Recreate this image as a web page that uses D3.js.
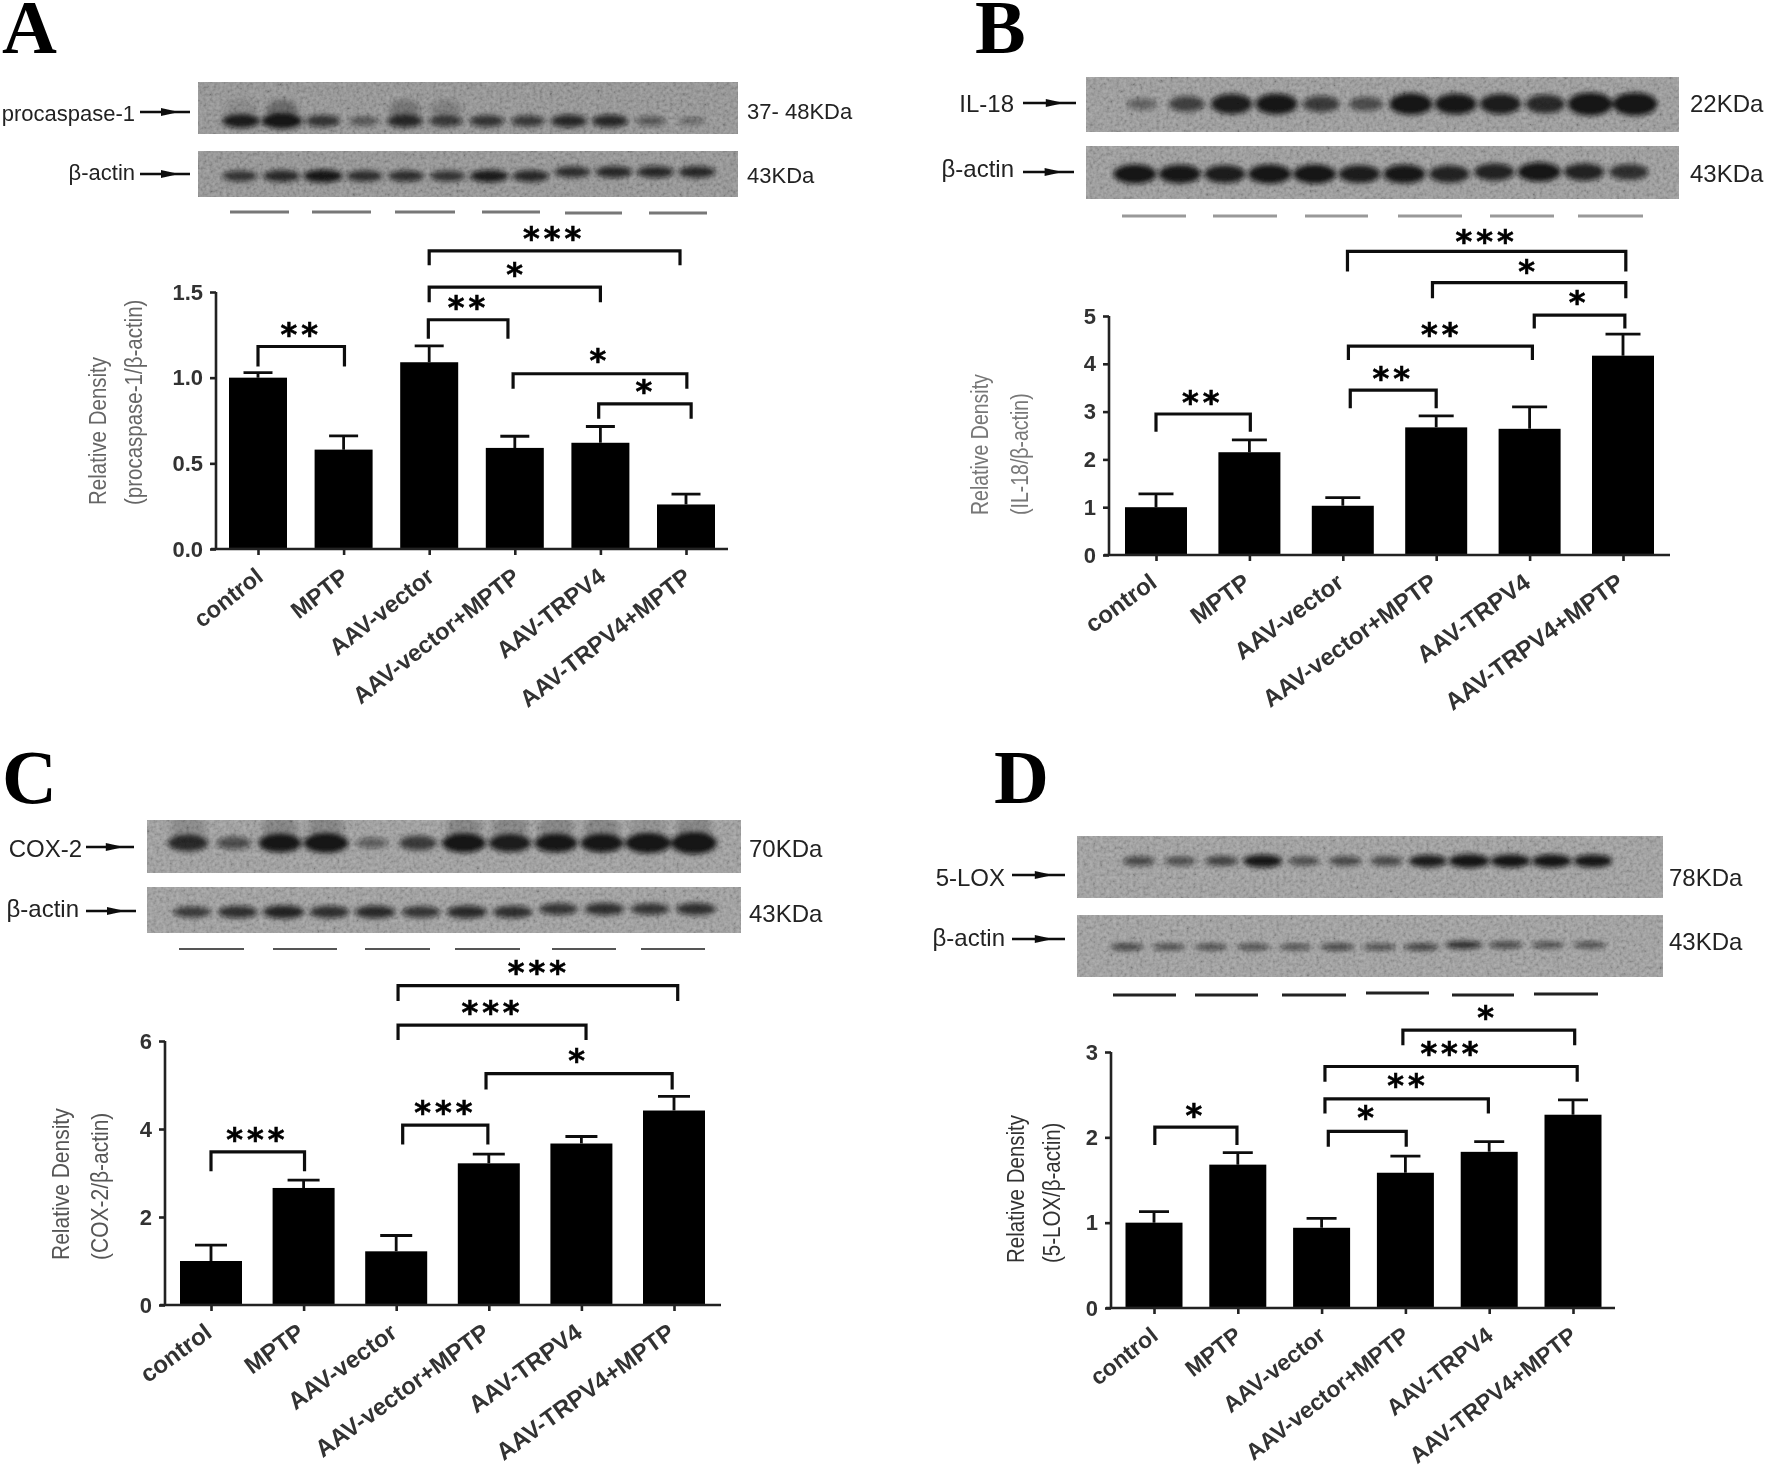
<!DOCTYPE html>
<html lang="en">
<head>
<meta charset="UTF-8" />
<title>TRPV4 western blots and densitometry</title>
<style>
  html, body { margin: 0; padding: 0; background: #fff; }
  svg { display: block; }
  text { font-family: "Liberation Sans", Arial, sans-serif; }
  .letter { font-family: "Liberation Serif", serif; font-weight: bold; font-size: 76px; fill: #000; }
  .blotlabel { fill: #222; dominant-baseline: central; }
  .tick-y text { font-size: 22px; font-weight: bold; fill: #333; }
  .tick-x text { font-weight: bold; fill: #333; }
  .stars { font-family: "DejaVu Sans", sans-serif; font-weight: bold; font-size: 32px; fill: #000; stroke: #000; stroke-width: 0.6; text-anchor: middle; letter-spacing: 4px; }
</style>
</head>
<body>
<svg id="fig" width="1767" height="1467"></svg>
<script src="https://d3js.org/d3.v7.min.js"></script>
<script>
const categories = ["control", "MPTP", "AAV-vector", "AAV-vector+MPTP", "AAV-TRPV4", "AAV-TRPV4+MPTP"];

// bar heights and top of the error bars
const valuesA = [1.0, 0.58, 1.09, 0.59, 0.62, 0.26];
const errorsA = [1.03, 0.66, 1.185, 0.658, 0.715, 0.32];
const valuesB = [1.0, 2.15, 1.03, 2.67, 2.64, 4.17];
const errorsB = [1.28, 2.41, 1.2, 2.91, 3.1, 4.62];
const valuesC = [1.0, 2.66, 1.22, 3.22, 3.67, 4.42];
const errorsC = [1.36, 2.84, 1.58, 3.43, 3.83, 4.74];
const valuesD = [1.0, 1.68, 0.94, 1.585, 1.83, 2.265];
const errorsD = [1.13, 1.82, 1.05, 1.78, 1.95, 2.44];

const ticksA = [0, 0.5, 1, 1.5];
const ticksB = [0, 1, 2, 3, 4, 5];
const ticksC = [0, 2, 4, 6];
const ticksD = [0, 1, 2, 3];

// from, to, level, left leg end, right leg end, stars, star x, star level
const bracketsA = [
  [2, 4.93, 1.74, 1.656, 1.656, "***", 3.46, 1.837],
  [2, 4, 1.529, 1.44, 1.44, "*", 3.02, 1.63],
  [1.99, 2.92, 1.338, 1.227, 1.227, "**", 2.46, 1.436],
  [0, 1.01, 1.182, 1.065, 1.065, "**", 0.505, 1.276],
  [2.98, 5.01, 1.023, 0.935, 0.935, "*", 3.995, 1.126],
  [3.98, 5.06, 0.847, 0.76, 0.76, "*", 4.53, 0.945]
];
const bracketsB = [
  [2.05, 5.03, 6.35, 5.93, 5.93, "***", 3.54, 6.65],
  [2.96, 5.03, 5.7, 5.37, 5.37, "*", 3.99, 6.03],
  [4.05, 5.02, 5.02, 4.74, 4.74, "*", 4.53, 5.37],
  [2.06, 4.03, 4.37, 4.08, 4.08, "**", 3.06, 4.71],
  [2.08, 3, 3.45, 3.07, 3.07, "**", 2.54, 3.78],
  [0, 1.01, 2.95, 2.58, 2.58, "**", 0.5, 3.28]
];
const bracketsC = [
  [2.02, 5.04, 7.26, 6.91, 6.91, "***", 3.54, 7.66],
  [2.02, 4.05, 6.36, 6.02, 6.02, "***", 3.04, 6.76],
  [2.97, 4.98, 5.26, 4.9, 4.9, "*", 3.97, 5.66],
  [2.07, 2.99, 4.09, 3.65, 3.65, "***", 2.53, 4.48],
  [0, 1.01, 3.48, 3.04, 3.04, "***", 0.5, 3.87]
];
const bracketsD = [
  [2.97, 5.02, 3.256, 3.08, 3.08, "*", 3.98, 3.46],
  [2.04, 5.05, 2.83, 2.65, 2.65, "***", 3.55, 3.04],
  [2.04, 3.99, 2.45, 2.28, 2.28, "**", 3.03, 2.66],
  [2.08, 3.01, 2.07, 1.89, 1.89, "*", 2.55, 2.28],
  [0.01, 0.99, 2.12, 1.91, 1.91, "*", 0.5, 2.31]
];

// western blot lane densities (12 lanes) and smear above the band
const lanesA = [0.8, 1, 0.6, 0.3, 0.7, 0.55, 0.6, 0.55, 0.7, 0.7, 0.3, 0.12];
const smearA = [0.2, 0.55, 0, 0, 0.4, 0.3, 0, 0, 0, 0, 0, 0];
const actinA = [0.6, 0.7, 0.85, 0.65, 0.65, 0.6, 0.8, 0.7, 0.65, 0.7, 0.7, 0.7];
const lanesB = [0.2, 0.5, 0.8, 0.85, 0.55, 0.4, 0.9, 0.85, 0.8, 0.7, 1, 1];
const smearB = [0, 0, 0, 0, 0, 0, 0, 0, 0, 0, 0, 0];
const actinB = [0.9, 0.85, 0.8, 0.9, 0.9, 0.8, 0.85, 0.75, 0.75, 0.9, 0.75, 0.65];
const lanesC = [0.7, 0.4, 0.85, 0.95, 0.25, 0.55, 0.9, 0.8, 0.85, 0.85, 1, 1.1];
const smearC = [0.25, 0, 0.3, 0.3, 0, 0, 0.3, 0.3, 0.3, 0.3, 0.2, 0.3];
const actinC = [0.55, 0.65, 0.75, 0.65, 0.7, 0.6, 0.7, 0.65, 0.6, 0.65, 0.6, 0.65];
const lanesD = [0.45, 0.4, 0.5, 0.85, 0.4, 0.45, 0.45, 0.8, 0.95, 0.9, 0.9, 0.85];
const smearD = [0, 0, 0, 0, 0, 0, 0, 0, 0, 0, 0, 0];
const actinD = [0.5, 0.45, 0.45, 0.45, 0.4, 0.5, 0.45, 0.55, 0.7, 0.5, 0.45, 0.45];

// layout of each panel, in page pixels
const panels = [
  {
    letter: "A", letterX: 2, letterY: 53, labelSize: 22, catSize: 23.5, catAngle: -38, catDx: 1, catDy: 24,
    values: valuesA, errors: errorsA, brackets: bracketsA, ticks: ticksA, tickFormat: d3.format(".1f"),
    xFirst: 258, xLast: 686, axisX: 216, axisEnd: 728, yTop: 292, yZero: 549, barW: 58, capW: 29,
    titleBottom: 505, title: ["Relative Density", "(procaspase-1/\u03b2-actin)"], titleX: [98, 134], titleSize: 20.5, titleFill: "#666",
    blots: [
      { x: 198, w: 540, y: 82, h: 52, lanes: lanesA, smear: smearA, from: 241, to: 692, bandY: 121, thick: 11, shift: 0, fill: "#8f8f8f",
        label: "procaspase-1", labelX: 135, labelY: 113, arrowX: [140, 190], arrowY: 112, kda: "37- 48KDa", kdaX: 747, kdaY: 111 },
      { x: 198, w: 540, y: 151, h: 46, lanes: actinA, smear: null, from: 240, to: 697, bandY: 176, thick: 10, shift: -4, fill: "#8f8f8f",
        label: "\u03b2-actin", labelX: 135, labelY: 172, arrowX: [140, 190], arrowY: 174, kda: "43KDa", kdaX: 747, kdaY: 175 }
    ],
    dashes: [[230, 289], [312, 371], [395, 455], [482, 540], [565, 622], [649, 707]], dashY: [212, 212, 212, 212, 213, 213], dashFill: "#777", dashW: 3
  },
  {
    letter: "B", letterX: 975, letterY: 53, labelSize: 24, catSize: 24, catAngle: -36, catDx: -3, catDy: 24,
    values: valuesB, errors: errorsB, brackets: bracketsB, ticks: ticksB, tickFormat: d3.format("d"),
    xFirst: 1156, xLast: 1623, axisX: 1109, axisEnd: 1670, yTop: 316, yZero: 555, barW: 62, capW: 35,
    titleBottom: 515, title: ["Relative Density", "(IL-18/\u03b2-actin)"], titleX: [980, 1020], titleSize: 19.5, titleFill: "#777",
    blots: [
      { x: 1086, w: 593, y: 77, h: 55, lanes: lanesB, smear: smearB, from: 1142, to: 1635, bandY: 104, thick: 17, shift: 0, fill: "#979797",
        label: "IL-18", labelX: 1014, labelY: 103, arrowX: [1023, 1076], arrowY: 103, kda: "22KDa", kdaX: 1690, kdaY: 103 },
      { x: 1086, w: 593, y: 146, h: 53, lanes: actinB, smear: null, from: 1135, to: 1629, bandY: 174, thick: 15, shift: -2, fill: "#979797",
        label: "\u03b2-actin", labelX: 1014, labelY: 168, arrowX: [1023, 1074], arrowY: 172, kda: "43KDa", kdaX: 1690, kdaY: 173 }
    ],
    dashes: [[1122, 1186], [1213, 1277], [1305, 1368], [1398, 1462], [1490, 1554], [1578, 1643]], dashY: [216, 216, 216, 216, 216, 216], dashFill: "#999", dashW: 3
  },
  {
    letter: "C", letterX: 2, letterY: 803, labelSize: 24, catSize: 24, catAngle: -36, catDx: -3, catDy: 24,
    values: valuesC, errors: errorsC, brackets: bracketsC, ticks: ticksC, tickFormat: d3.format("d"),
    xFirst: 211, xLast: 674, axisX: 165, axisEnd: 721, yTop: 1041, yZero: 1305, barW: 62, capW: 32,
    titleBottom: 1260, title: ["Relative Density", "(COX-2/\u03b2-actin)"], titleX: [60, 99], titleSize: 21, titleFill: "#555",
    blots: [
      { x: 147, w: 594, y: 820, h: 53, lanes: lanesC, smear: smearC, from: 188, to: 694, bandY: 843, thick: 15, shift: 0, fill: "#9b9b9b",
        label: "COX-2", labelX: 82, labelY: 848, arrowX: [86, 134], arrowY: 847, kda: "70KDa", kdaX: 749, kdaY: 848 },
      { x: 147, w: 594, y: 887, h: 46, lanes: actinC, smear: null, from: 192, to: 696, bandY: 912, thick: 11, shift: -3, fill: "#9b9b9b",
        label: "\u03b2-actin", labelX: 79, labelY: 908, arrowX: [86, 136], arrowY: 911, kda: "43KDa", kdaX: 749, kdaY: 913 }
    ],
    dashes: [[179, 244], [273, 337], [365, 430], [455, 520], [552, 616], [641, 705]], dashY: [949, 949, 949, 949, 949, 949], dashFill: "#555", dashW: 2
  },
  {
    letter: "D", letterX: 994, letterY: 803, labelSize: 24, catSize: 23, catAngle: -38, catDx: 0, catDy: 24,
    values: valuesD, errors: errorsD, brackets: bracketsD, ticks: ticksD, tickFormat: d3.format("d"),
    xFirst: 1154, xLast: 1573, axisX: 1111, axisEnd: 1615, yTop: 1052, yZero: 1308, barW: 57, capW: 30,
    titleBottom: 1263, title: ["Relative Density", "(5-LOX/\u03b2-actin)"], titleX: [1016, 1052], titleSize: 20.5, titleFill: "#333",
    blots: [
      { x: 1077, w: 586, y: 836, h: 62, lanes: lanesD, smear: smearD, from: 1139, to: 1593, bandY: 861, thick: 10, shift: 0, fill: "#9c9c9c",
        label: "5-LOX", labelX: 1005, labelY: 877, arrowX: [1012, 1065], arrowY: 875, kda: "78KDa", kdaX: 1669, kdaY: 877 },
      { x: 1077, w: 586, y: 915, h: 62, lanes: actinD, smear: null, from: 1127, to: 1590, bandY: 947, thick: 6, shift: -2, fill: "#9c9c9c",
        label: "\u03b2-actin", labelX: 1005, labelY: 937, arrowX: [1012, 1065], arrowY: 939, kda: "43KDa", kdaX: 1669, kdaY: 941 }
    ],
    dashes: [[1113, 1176], [1195, 1258], [1282, 1346], [1366, 1429], [1452, 1514], [1534, 1598]], dashY: [995, 995, 995, 993, 995, 994], dashFill: "#222", dashW: 3
  }
];

const svg = d3.select("#fig");
const defs = svg.append("defs");

defs.append("filter").attr("id", "soft")
  .attr("filterUnits", "userSpaceOnUse")
  .attr("x", 0).attr("y", 0).attr("width", 1767).attr("height", 1467)
  .append("feGaussianBlur").attr("stdDeviation", 0.75);

defs.append("filter").attr("id", "bandblur")
  .attr("filterUnits", "userSpaceOnUse")
  .attr("x", 0).attr("y", 0).attr("width", 1767).attr("height", 1467)
  .append("feGaussianBlur").attr("stdDeviation", 2.6);

const grain = defs.append("filter").attr("id", "grain")
  .attr("x", 0).attr("y", 0).attr("width", 1).attr("height", 1);
grain.append("feTurbulence").attr("type", "fractalNoise")
  .attr("baseFrequency", 0.3).attr("numOctaves", 2).attr("seed", 4);
grain.append("feColorMatrix").attr("type", "matrix")
  .attr("values", "1.4 0 0 0 -0.2  1.4 0 0 0 -0.2  1.4 0 0 0 -0.2  0 0 0 0 1");

const root = svg.append("g").attr("filter", "url(#soft)");

function drawBlot(g, b, i, labelSize) {
  const clipId = `blot-${b.x}-${b.y}`;
  defs.append("clipPath").attr("id", clipId).append("rect")
    .attr("x", b.x).attr("y", b.y).attr("width", b.w).attr("height", b.h);

  g.append("rect").attr("x", b.x).attr("y", b.y).attr("width", b.w).attr("height", b.h).attr("fill", b.fill);
  g.append("rect").attr("x", b.x).attr("y", b.y).attr("width", b.w).attr("height", b.h)
    .attr("filter", "url(#grain)").attr("opacity", 0.22);

  const lane = d3.scaleLinear().domain([0, 11]).range([b.from, b.to]);
  const step = (b.to - b.from) / 11;
  const bands = g.append("g").attr("clip-path", `url(#${clipId})`)
    .append("g").attr("filter", "url(#bandblur)");

  if (b.smear) {
    bands.selectAll("ellipse.smear").data(b.smear).join("ellipse")
      .attr("class", "smear")
      .attr("cx", (d, i) => lane(i))
      .attr("cy", b.bandY - b.thick * 1.05)
      .attr("rx", step * 0.38)
      .attr("ry", b.thick * 0.9)
      .attr("fill", "#222")
      .attr("opacity", d => d * 0.75);
  }

  bands.selectAll("ellipse.band").data(b.lanes).join("ellipse")
    .attr("class", "band")
    .attr("cx", (d, i) => lane(i))
    .attr("cy", (d, i) => b.bandY + (i >= 8 ? b.shift : 0))
    .attr("rx", d => step * (0.3 + 0.2 * Math.min(d, 1)))
    .attr("ry", d => b.thick * (0.3 + 0.7 * d) / 1.6 + 1)
    .attr("fill", "#111")
    .attr("opacity", d => Math.min(0.95, 0.3 + 0.75 * d));

  g.append("text").attr("class", "blotlabel").attr("text-anchor", "end").attr("font-size", labelSize)
    .attr("x", b.labelX).attr("y", b.labelY).text(b.label);
  g.append("text").attr("class", "blotlabel").attr("font-size", labelSize)
    .attr("x", b.kdaX).attr("y", b.kdaY).text(b.kda);

  // the little arrow next to the band name
  const [ax0, ax1] = b.arrowX;
  const ah = ax0 + (ax1 - ax0) * 0.6;
  g.append("path")
    .attr("d", `M${ax0},${b.arrowY}L${ax1},${b.arrowY}`)
    .attr("stroke", "#111").attr("stroke-width", 2.4);
  g.append("path")
    .attr("d", `M${ah - 9},${b.arrowY - 4}L${ah + 9},${b.arrowY}L${ah - 9},${b.arrowY + 4}Z`)
    .attr("fill", "#111");
}

function drawPanel(p) {
  const g = root.append("g");

  g.append("text").attr("class", "letter").attr("x", p.letterX).attr("y", p.letterY).text(p.letter);

  p.blots.forEach((b, i) => drawBlot(g, b, i, p.labelSize));

  g.selectAll("rect.dash").data(p.dashes).join("rect")
    .attr("class", "dash")
    .attr("x", d => d[0])
    .attr("y", (d, i) => p.dashY[i] - p.dashW / 2)
    .attr("width", d => d[1] - d[0])
    .attr("height", p.dashW)
    .attr("fill", p.dashFill);

  const x = d3.scaleLinear().domain([0, 5]).range([p.xFirst, p.xLast]);
  const y = d3.scaleLinear().domain([0, d3.max(p.ticks)]).range([p.yZero, p.yTop]);

  // bars and error bars
  g.selectAll("rect.bar").data(p.values).join("rect")
    .attr("class", "bar")
    .attr("x", (d, i) => x(i) - p.barW / 2)
    .attr("y", d => y(d))
    .attr("width", p.barW)
    .attr("height", d => y(0) - y(d))
    .attr("fill", "#000");

  g.selectAll("path.err").data(p.errors).join("path")
    .attr("class", "err")
    .attr("fill", "none").attr("stroke", "#111").attr("stroke-width", 2.8)
    .attr("d", (d, i) => `M${x(i)},${y(p.values[i])}V${y(d)}M${x(i) - p.capW / 2},${y(d)}H${x(i) + p.capW / 2}`);

  // axes
  const axisY = d3.axisLeft(y).tickValues(p.ticks).tickFormat(p.tickFormat).tickSize(6).tickPadding(7);
  const gy = g.append("g").attr("class", "tick-y").attr("transform", `translate(${p.axisX},0)`).call(axisY);
  gy.selectAll("path, line").attr("stroke", "#222").attr("stroke-width", 2.6);
  gy.select("path").attr("d", `M0,${p.yTop}V${p.yZero}`);

  const axisX = d3.axisBottom(x).tickValues(d3.range(6)).tickFormat(i => categories[i]).tickSize(6);
  const gx = g.append("g").attr("class", "tick-x").attr("transform", `translate(0,${p.yZero})`).call(axisX);
  gx.selectAll("path, line").attr("stroke", "#222").attr("stroke-width", 2.6);
  gx.select("path").attr("d", `M${p.axisX - 5},0H${p.axisEnd}`);
  gx.selectAll("text")
    .attr("font-size", p.catSize)
    .attr("text-anchor", "end")
    .attr("x", 0).attr("y", 0).attr("dy", "0.35em")
    .attr("transform", `translate(${p.catDx},${p.catDy}) rotate(${p.catAngle})`);

  // y title, two lines, both start at the same bottom edge; squeezed like the original
  p.title.forEach((line, i) => {
    g.append("text")
      .attr("transform", `translate(${p.titleX[i]},${p.titleBottom}) rotate(-90) scale(1,1.18)`)
      .attr("dy", "0.35em")
      .attr("font-size", p.titleSize)
      .attr("fill", p.titleFill)
      .text(line);
  });

  // significance brackets
  g.selectAll("path.bracket").data(p.brackets).join("path")
    .attr("class", "bracket")
    .attr("fill", "none").attr("stroke", "#111").attr("stroke-width", 3.2)
    .attr("d", d => `M${x(d[0])},${y(d[3])}V${y(d[2])}H${x(d[1])}V${y(d[4])}`);

  g.selectAll("text.stars").data(p.brackets).join("text")
    .attr("class", "stars")
    .attr("x", d => x(d[6]))
    .attr("y", d => y(d[7]) + 15)
    .text(d => d[5]);
}

panels.forEach(drawPanel);
</script>
</body>
</html>
